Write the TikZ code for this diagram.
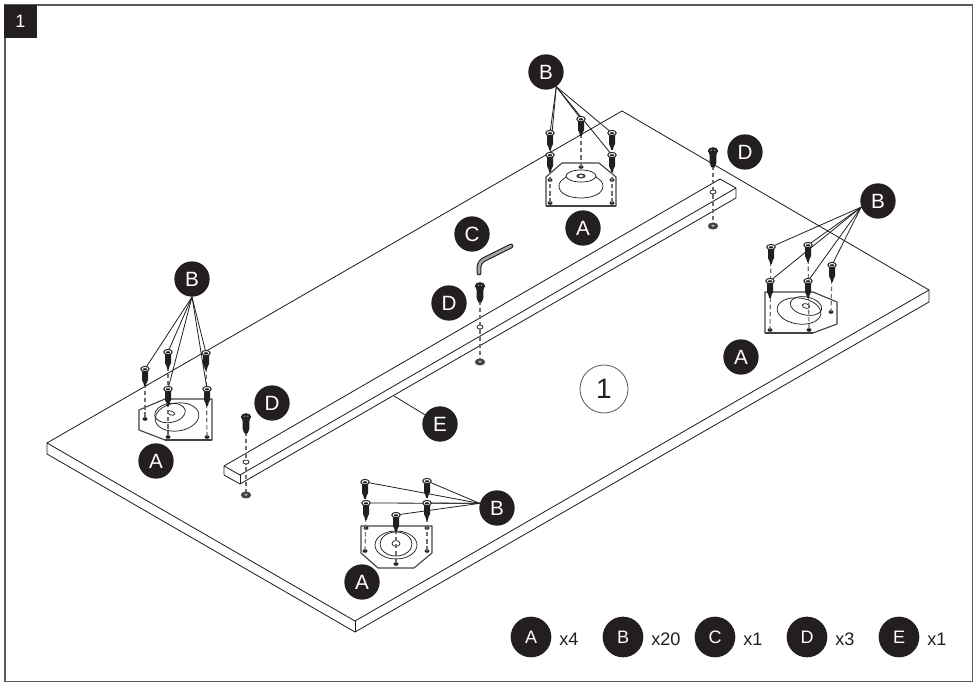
\documentclass[tikz,border=0pt]{standalone}
\usepackage{fontspec}
\setmainfont{Liberation Sans}
\definecolor{ink}{HTML}{231F20}
\definecolor{framegray}{HTML}{5A5A5A}
\tikzset{
  x=0.75pt,y=-0.75pt,
  edge/.style={draw=ink,line width=0.62pt},
  leader/.style={draw=ink,line width=0.6pt},
  plate/.style={draw=ink!85,line width=0.85pt,line join=round},
  fine/.style={draw=ink,line width=0.55pt},
  guide/.style={draw=ink!65,line width=0.85pt,dash pattern=on 3.4pt off 2pt},
  badge/.style={circle,fill=ink,text=white,inner sep=0pt,minimum size=26.5pt,font=\fontsize{15.5}{16}\selectfont},
  legendbadge/.style={circle,fill=ink,text=white,inner sep=0pt,minimum size=30.5pt,font=\fontsize{13.5}{14}\selectfont},
  qty/.style={anchor=west,inner sep=0pt,text=ink,font=\fontsize{13.6}{14}\selectfont},
  screwpic/.pic={
    \fill[ink] (-3,1)--(3,1)--(3,11)--(1.6,14)--(0.8,17)--(-0.8,17)--(-1.6,14)--(-3,11)--cycle;
    \filldraw[draw=ink,fill=white,line width=0.75pt] (0,0) ellipse (4.2 and 2.6);
    \fill[ink] (0,0.3) ellipse (2.2 and 1.1);
  },
  boltpic/.pic={
    \fill[ink] (-3.6,0)--(3.6,0)--(3.3,12)--(1.6,16.5)--(-1.6,16.5)--(-3.3,12)--cycle;
    \fill[ink] (0,0) ellipse (5.2 and 3.8);
    \fill[white,opacity=.5] (-1.7,-0.7) ellipse (1 and 0.8);
    \fill[white,opacity=.5] (1.7,-0.7) ellipse (1 and 0.8);
  },
  washerpic/.pic={
    \fill[ink!85] (0,0) ellipse (5.2 and 3.5);
    \fill[white,opacity=.7] (0,-0.3) ellipse (1.8 and 1);
  },
  ringpic/.pic={
    \filldraw[draw=ink,fill=white,line width=0.55pt] (0,0) ellipse (3 and 2);
  },
}
\newcommand\Screw[3]{\pic at (#2,#3) {screwpic}; }
\newcommand\Hole[3]{\coordinate (#1) at (#2,#3); }
\newcommand\Dot[1]{\fill[ink] (#1) ellipse (2.5 and 1.8);}
\begin{document}
\begin{tikzpicture}
\useasboundingbox (0,0) rectangle (976,684);
\draw[framegray,line width=1.05pt] (5,5) rectangle (972.5,681.5);
\node[fill=ink,text=white,minimum width=24.75pt,minimum height=24.75pt,inner sep=0pt,font=\fontsize{13.5}{14}\selectfont] (step1) at (20.5,21.5) {1};

% table top
\coordinate (tl) at (47,443);
\coordinate (tlb) at (47,454);
\coordinate (tf) at (355,621);
\coordinate (tfb) at (355,632);
\coordinate (tr) at (929,290);
\coordinate (trb) at (929,302);
\coordinate (tt) at (622,111);
\draw[edge,line join=round] (tl)--(tt)--(tr)--(tf)--cycle;
\draw[edge,line join=round] (tl)--(tlb)--(tfb)--(trb)--(tr);
\draw[edge] (tf)--(tfb);

% beam
\coordinate (ba) at (224,466);
\coordinate (bb) at (240,475);
\coordinate (bc) at (240,484);
\coordinate (bd) at (224,475);
\coordinate (be) at (720,179);
\coordinate (bf) at (736,188);
\coordinate (bg) at (736,198);
\draw[edge,line join=round] (bd)--(ba)--(be)--(bf)--(bg)--(bc)--(bd);
\draw[edge] (ba)--(bb)--(bf);
\draw[edge] (bb)--(bc);

%%% top group
\draw[plate] (546,177)--(562,163)--(599,163)--(616,177)--(616,206)--(546,206)--cycle;
\draw[plate,line width=1.2pt] (546,206)--(616,206);
\draw[fine] (566,177) .. controls (561,180) and (559,183) .. (559,186) .. controls (559,194) and (570,198) .. (581,198) .. controls (592,198) and (603,194) .. (603,186) .. controls (603,183) and (601,180) .. (596,177);
\draw[fine] (581,176) ellipse (15 and 6);
\filldraw[draw=ink,fill=ink!70,line width=0.5pt] (581,176) ellipse (4.2 and 2.1);
\fill[white] (581,176) ellipse (2.2 and 0.9);
\Hole{ta}{550}{180}\Hole{tb}{612}{180}\Hole{tc}{550}{203}\Hole{td}{612}{203}\Hole{te}{581}{167}
\Dot{ta}\Dot{tb}\Dot{tc}\Dot{td}\Dot{te}
\coordinate (ts1) at (550,133);\coordinate (ts2) at (581,119);\coordinate (ts3) at (612,133);\coordinate (ts4) at (550,155);\coordinate (ts5) at (612,155);
\draw[guide] (ts4)--(tc);\draw[guide] (ts5)--(td);\draw[guide] (ts2)--(te);
\node[badge] (bT) at (546,72) {B};
\node[badge] (aT) at (583,228) {A};
\foreach \t in {ts1,ts2,ts3,ts4,ts5} \draw[leader] (bT.-55)--(\t);
\Screw{}{550}{133}\Screw{}{581}{119}\Screw{}{612}{133}\Screw{}{550}{155}\Screw{}{612}{155}

%%% right group
\draw[plate] (765,292)--(813,292)--(837,302)--(837,324)--(813,333)--(765,333)--cycle;
\draw[plate,line width=1.2pt] (813,333)--(765,333);
\draw[fine,rotate around={-8:(799,311)}] (799,311) ellipse (22 and 13);
\draw[fine,rotate around={-12:(806,306)}] (806,306) ellipse (16 and 9);
\draw[fine,rotate around={-15:(806,306)}] (806,306) ellipse (3.8 and 2.2);
\Hole{ra}{770}{330}\Hole{rb}{809}{330}\Hole{rc}{831}{312}
\Dot{ra}\Dot{rb}\Dot{rc}
\coordinate (rs1) at (771,247);\coordinate (rs2) at (808,245);\coordinate (rs3) at (832,265);\coordinate (rs4) at (770,281);\coordinate (rs5) at (808,281);
\draw[guide] (rs1)--(ra);\draw[guide] (rs2)--(rb);\draw[guide] (rs3)--(rc);
\node[badge] (bR) at (878,201) {B};
\node[badge] (aR) at (741,357) {A};
\foreach \t in {rs1,rs2,rs3,rs4,rs5} \draw[leader] (bR.200)--(\t);
\Screw{}{771}{247}\Screw{}{808}{245}\Screw{}{832}{265}\Screw{}{770}{281}\Screw{}{808}{281}

%%% left group
\draw[plate] (139,410)--(165,399)--(212,399)--(212,440)--(165,440)--(139,430)--cycle;
\draw[plate,line width=1.2pt] (165,440)--(212,440);
\draw[fine,rotate around={8:(177,417)}] (177,417) ellipse (22 and 14);
\draw[fine,rotate around={10:(170,413)}] (170,413) ellipse (15.5 and 9.5);
\draw[fine,rotate around={-20:(171,413)}] (171,413) ellipse (3.8 and 2);
\Hole{la}{145}{419}\Hole{lb}{168}{437}\Hole{lc}{207}{437}
\Dot{la}\Dot{lb}\Dot{lc}
\coordinate (ls1) at (145,369);\coordinate (ls2) at (168,352);\coordinate (ls3) at (206,353);\coordinate (ls4) at (168,389);\coordinate (ls5) at (207,389);
\draw[guide] (ls1)--(la);\draw[guide] (ls2)--(lb);\draw[guide] (ls3)--(lc);
\node[badge] (bL) at (192,279) {B};
\node[badge] (aL) at (156,461) {A};
\foreach \t in {ls1,ls2,ls3,ls4,ls5} \draw[leader] (bL.-90)--(\t);
\Screw{}{145}{369}\Screw{}{168}{352}\Screw{}{206}{353}\Screw{}{168}{389}\Screw{}{207}{389}

%%% bottom group
\draw[plate] (361,526)--(432,526)--(432,553)--(414,568)--(378,568)--(361,553)--cycle;
\draw[fine] (396,545) ellipse (21 and 14);
\draw[fine] (396,544) ellipse (16 and 12);
\draw[fine] (396,543.5) ellipse (4 and 3);
\Hole{fa}{366}{528}\Hole{fb}{427}{528}\Hole{fc}{365}{551}\Hole{fd}{427}{551}\Hole{fe}{396}{564}
\Dot{fa}\Dot{fb}\Dot{fc}\Dot{fd}\Dot{fe}
\coordinate (fs1) at (365,482);\coordinate (fs2) at (427,481);\coordinate (fs3) at (366,503);\coordinate (fs4) at (427,503);\coordinate (fs5) at (396,515);
\draw[guide] (fs3)--(fc);\draw[guide] (fs4)--(fd);\draw[guide] (fs5)--(fe);
\node[badge] (bF) at (497,508) {B};
\node[badge] (aF) at (362,582) {A};
\foreach \t in {fs1,fs2,fs3,fs4,fs5} \draw[leader] (bF.165)--(\t);
\Screw{}{365}{482}\Screw{}{427}{481}\Screw{}{366}{503}\Screw{}{427}{503}\Screw{}{396}{515}

%%% bolts
\coordinate (db1) at (713,151);\coordinate (dr1) at (713,192);\coordinate (dw1) at (713,226);
\coordinate (db2) at (480,286);\coordinate (dr2) at (480,327);\coordinate (dw2) at (480,362);
\coordinate (db3) at (246,417);\coordinate (dr3) at (246,462);\coordinate (dw3) at (246,495);
\draw[guide] (db1)--(dw1);
\draw[guide] (db2)--(dw2);
\draw[guide] (db3)--(dw3);
\foreach \a/\b/\c in {db1/dr1/dw1,db2/dr2/dw2,db3/dr3/dw3}{
  \pic at (\a) {boltpic};
  \pic at (\b) {ringpic};
  \pic at (\c) {washerpic};
}
\node[badge] (dA) at (745,152) {D};
\node[badge] (dB) at (449,303) {D};
\node[badge] (dC) at (272,403) {D};

%%% hex key
\node[badge] (keyC) at (472,234) {C};
\coordinate (k1) at (479,273);\coordinate (k2) at (511,246);
\draw[ink,line width=3.6pt,line cap=round,line join=round,rounded corners=4pt] (k1)--(479,262)--(k2);
\draw[gray!70,line width=2pt,line cap=round,line join=round,rounded corners=4pt] (k1)--(479,262)--(k2);

%%% beam label
\node[badge] (eE) at (440,424) {E};
\coordinate (eS) at (394,396);
\draw[leader] (eS)--(eE);

%%% big 1
\node[circle,draw=ink!75,line width=0.6pt,fill=white,minimum size=36pt,inner sep=0pt,font=\fontsize{21}{24}\selectfont,text=ink] (big) at (604,389) {1};

%%% legend
\node[legendbadge] (lgA) at (531,637) {A};
\node[legendbadge] (lgB) at (623,637) {B};
\node[legendbadge] (lgC) at (715,637) {C};
\node[legendbadge] (lgD) at (807,637) {D};
\node[legendbadge] (lgE) at (899,637) {E};
\node[qty] (qA) at (559,639) {x4};
\node[qty] (qB) at (651,639) {x20};
\node[qty] (qC) at (743,639) {x1};
\node[qty] (qD) at (835,639) {x3};
\node[qty] (qE) at (927,639) {x1};
\end{tikzpicture}
\end{document}
